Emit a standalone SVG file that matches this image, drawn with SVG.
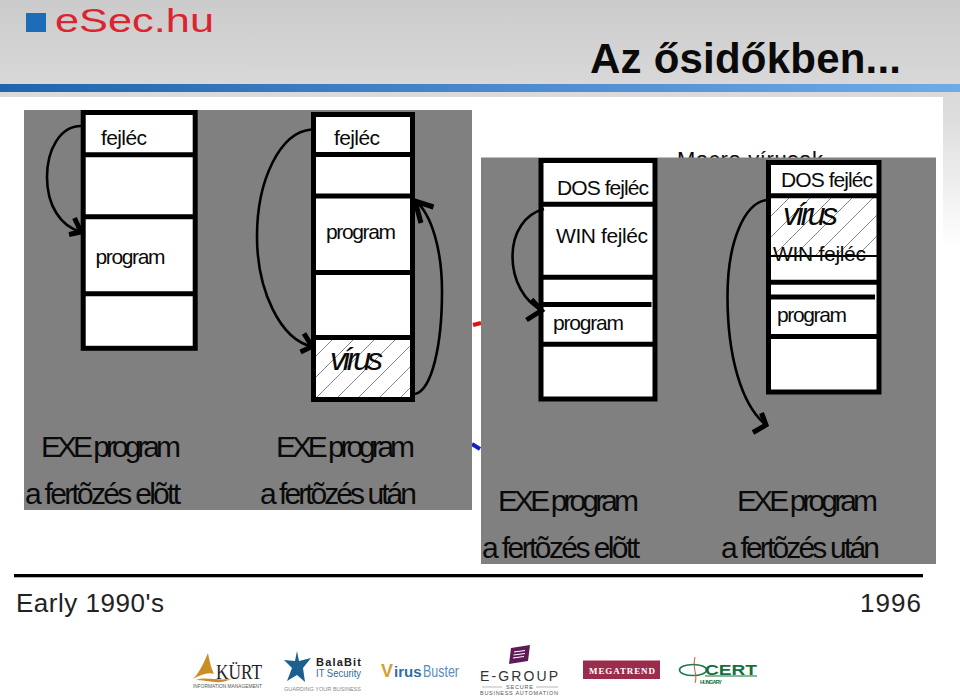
<svg xmlns="http://www.w3.org/2000/svg" width="960" height="697" viewBox="0 0 960 697">
<style>
text{font-family:"Liberation Sans",Arial,sans-serif;fill:#0a0a0a}
.cell{fill:#fff}
.frame{fill:none;stroke:#000;stroke-width:5}
.div{stroke:#000;stroke-width:5}
.lbl{font-size:21px}
.big{font-size:30px}
.vir{font-size:32px;font-style:italic}
.panel{fill:#808080}
.conn{fill:none;stroke:#000;stroke-width:2.6}
.head{fill:none;stroke:#000;stroke-width:5}
.time{font-size:26px;font-weight:normal}
</style>
<defs>
<linearGradient id="bg" x1="0" y1="0" x2="0" y2="1"><stop offset="0" stop-color="#cbcbcb"/><stop offset=".3" stop-color="#dedede"/><stop offset=".62" stop-color="#fff"/></linearGradient>
<linearGradient id="bar" x1="0" y1="0" x2="1" y2="0"><stop offset="0" stop-color="#1f65ae"/><stop offset=".5" stop-color="#4a87cc"/><stop offset="1" stop-color="#6dabe8"/></linearGradient>
<pattern id="hatch" patternUnits="userSpaceOnUse" width="21" height="21"><rect width="21" height="21" fill="#fff"/><path d="M-2,23 L23,-2" stroke="#555" stroke-width=".7" fill="none"/></pattern>
</defs>

<g id="background">
<rect width="960" height="697" fill="#fff"/>
<rect width="960" height="400" fill="url(#bg)"/>
<rect x="0" y="97" width="943" height="600" fill="#fff"/>
<rect x="0" y="84" width="960" height="8" fill="url(#bar)"/>
</g>

<g id="esec-logo">
<rect x="26" y="13" width="20" height="19" fill="#1c6cb8"/>
<text x="55" y="32" font-size="34" textLength="159" lengthAdjust="spacingAndGlyphs" style="fill:#dc2430">eSec.hu</text>
</g>
<text id="title" x="590" y="72.500" font-size="42" font-weight="bold" textLength="311" lengthAdjust="spacing">Az ősidőkben...</text>

<text id="macro" x="677" y="167" font-size="22" textLength="146" lengthAdjust="spacing">Macro vírusok</text>

<g id="stray-marks">
<path d="M473,325 L481,323" stroke="#e01010" stroke-width="4"/>
<path d="M472,444 L480,449" stroke="#1420c8" stroke-width="4"/>
</g>

<rect id="panel-1" class="panel" x="24" y="110" width="448" height="400"/>
<rect id="panel-2" class="panel" x="481" y="157.500" width="455" height="406.500"/>

<g id="box-1">
<rect class="cell" x="83" y="112.500" width="112.500" height="235.500"/>
<path class="div" d="M83,154.800H195.500M83,216.700H195.500M83,293.700H195.500"/>
<rect class="frame" x="83.200" y="112.500" width="112" height="235.800"/>
<text class="lbl" x="101" y="145" textLength="46" lengthAdjust="spacing">fejléc</text>
<text class="lbl" x="95.500" y="264" textLength="70" lengthAdjust="spacing">program</text>
</g>

<g id="box-2">
<rect class="cell" x="313" y="114" width="100" height="286"/>
<rect x="313" y="337" width="100" height="63" fill="url(#hatch)"/>
<path class="div" d="M313,154.500H413M313,196H413M313,272.600H413M313,337.600H413"/>
<rect class="frame" x="313.500" y="114.500" width="99" height="285"/>
<text class="lbl" x="334" y="144.500" textLength="46" lengthAdjust="spacing">fejléc</text>
<text class="lbl" x="326" y="238.500" textLength="70" lengthAdjust="spacing">program</text>
<text class="vir" x="330" y="370" textLength="53" lengthAdjust="spacing">vírus</text>
</g>

<g id="box-3">
<rect class="cell" x="541" y="160" width="114" height="239"/>
<path class="div" d="M541,204.300H655M541,277.300H655M541,304.600H651.500M541,344.300H655"/>
<rect class="frame" x="541" y="160.500" width="114" height="238.500"/>
<text class="lbl" x="557" y="194.500" textLength="92" lengthAdjust="spacing">DOS fejléc</text>
<text class="lbl" x="556" y="243" textLength="92" lengthAdjust="spacing">WIN fejléc</text>
<text class="lbl" x="553" y="330" textLength="71" lengthAdjust="spacing">program</text>
</g>

<g id="box-4">
<rect class="cell" x="768" y="162" width="111" height="230"/>
<rect x="768" y="196" width="111" height="60" fill="url(#hatch)"/>
<path class="div" d="M768,195.800H879M768,282.200H879M768,297H875M768,336.500H879"/>
<path d="M768,256H879" stroke="#000" stroke-width="2"/>
<rect class="frame" x="768.500" y="162.500" width="110.500" height="229.500"/>
<text class="lbl" x="781" y="186.500" textLength="92" lengthAdjust="spacing">DOS fejléc</text>
<text class="vir" x="783" y="225" textLength="55" lengthAdjust="spacing">vírus</text>
<text class="lbl" x="773" y="261" textLength="93" lengthAdjust="spacing">WIN fejléc</text>
<text class="lbl" x="777" y="321.500" textLength="70" lengthAdjust="spacing">program</text>
</g>

<g id="connectors">
<path class="conn" d="M81,126 C60,126 47,150 47,177 C47,205 60,226 81,232"/>
<path class="head" d="M74.500,218 L81,232 L69,234.500"/>
<path class="conn" d="M311.500,129.500 C280,132 257,180 257,236.500 C257,290 280,340 313,347"/>
<path class="head" d="M304,333.500 L312,346.500 L300.500,352"/>
<path class="conn" d="M415,394 C432,390 442,345 442,291.500 C442,250 432,215 415,200"/>
<path class="head" d="M433.500,207 L415,201 L421,223"/>
<path class="conn" d="M544,209 C525,214 512.500,232 512.500,256.500 C512.500,280 524,302 542.500,310.500"/>
<path class="head" d="M531.500,299.500 L541.500,310.500 L526.500,320"/>
<path class="conn" d="M766.500,200 C745,203 727.500,240 727.500,296.500 C727.500,355 741,405 766,425"/>
<path class="head" d="M761.500,413 L766,425 L753,432.500"/>
</g>

<g id="captions">
<text class="big" x="41" y="457" textLength="140" lengthAdjust="spacing">EXE program</text>
<text class="big" x="25" y="504" textLength="156" lengthAdjust="spacing">a fertõzés elõtt</text>
<text class="big" x="276" y="457" textLength="139" lengthAdjust="spacing">EXE program</text>
<text class="big" x="260" y="504" textLength="157" lengthAdjust="spacing">a fertõzés után</text>
<text class="big" x="498" y="510.500" textLength="141" lengthAdjust="spacing">EXE program</text>
<text class="big" x="482" y="558" textLength="158" lengthAdjust="spacing">a fertõzés elõtt</text>
<text class="big" x="737" y="510.500" textLength="141" lengthAdjust="spacing">EXE program</text>
<text class="big" x="721" y="558" textLength="159" lengthAdjust="spacing">a fertõzés után</text>
</g>

<g id="timeline">
<rect x="14" y="574" width="909" height="3.300" fill="#000"/>
<text class="time" x="16" y="611.500" textLength="148" lengthAdjust="spacing" style="fill:#222">Early 1990's</text>
<text class="time" x="860" y="611.500" textLength="61" lengthAdjust="spacing" style="fill:#222">1996</text>
</g>

<g id="logo-kurt">
<path d="M193,679 C200,672 205,660 208,653 C210,664 212,670 214,674 C208,672 200,675 193,679Z" fill="#c98f25"/>
<path d="M196,680 C206,676 222,682 232,678 C222,686 206,680 196,680Z" fill="#c98f25"/>
<text x="216" y="679" font-size="21" textLength="46" lengthAdjust="spacingAndGlyphs" style="font-family:'Liberation Serif',serif;fill:#222">KÜRT</text>
<text x="193" y="687.500" font-size="5" textLength="69" lengthAdjust="spacingAndGlyphs" style="fill:#555">INFORMATION MANAGEMENT</text>
</g>
<g id="logo-balabit">
<path d="M297,651 L299,661 L311,658 L303,668 L305,682 L297,675 L287,681 L292,668 L284,660 L295,661Z" fill="#1d5f8f"/>
<text x="316" y="666" font-size="11" font-weight="bold" textLength="45" lengthAdjust="spacing" style="fill:#222">BalaBit</text>
<text x="316" y="677" font-size="10.500" textLength="45" lengthAdjust="spacingAndGlyphs" style="fill:#2a6a98">IT Security</text>
<text x="284" y="690.500" font-size="5.500" textLength="77" lengthAdjust="spacingAndGlyphs" style="fill:#888">GUARDING YOUR BUSINESS</text>
</g>
<g id="logo-virusbuster">
<text x="381" y="677" font-size="18" font-weight="bold" style="fill:#d3a033">V</text>
<text x="394" y="677" font-size="15" font-weight="bold" style="fill:#2f6da6">irus</text>
<text x="423" y="677" font-size="17" textLength="36" lengthAdjust="spacingAndGlyphs" style="fill:#5b8cbc">Buster</text>
</g>
<g id="logo-egroup">
<path d="M511,648 L530,645 L528,661 L509,664Z" fill="#5f1a58"/>
<path d="M514,652 L525,650.500M513.500,655 L525,653.500M513,658 L524,656.500" stroke="#fff" stroke-width="1.200"/>
<text x="480" y="681" font-size="14" textLength="78" lengthAdjust="spacing" style="fill:#333">E-GROUP</text>
<path d="M482,687H502M536,687H558" stroke="#999" stroke-width=".7"/>
<text x="506" y="689" font-size="5.500" textLength="27" lengthAdjust="spacing" style="fill:#555">SECURE</text>
<text x="480" y="695" font-size="5.500" textLength="78" lengthAdjust="spacing" style="fill:#555">BUSINESS AUTOMATION</text>
</g>
<g id="logo-megatrend">
<rect x="583" y="660.500" width="77" height="18.500" fill="#9c2c4b"/>
<text x="589" y="673.500" font-size="9" font-weight="bold" textLength="66" lengthAdjust="spacing" style="font-family:'Liberation Serif',serif;fill:#fff">MEGATREND</text>
</g>
<g id="logo-cert">
<ellipse cx="693" cy="670" rx="13.500" ry="5.500" fill="none" stroke="#1c7a4a" stroke-width="1.600"/>
<path d="M695,657 C692,668 698,675 695,683" fill="none" stroke="#c65a3a" stroke-width="1"/>
<text x="705" y="675" font-size="15" font-weight="bold" textLength="52" lengthAdjust="spacingAndGlyphs" style="fill:#14703f">CERT</text>
<rect x="705" y="675.500" width="52" height="1" fill="#14703f"/>
<text x="700" y="683.500" font-size="5.500" font-weight="bold" textLength="22" lengthAdjust="spacing" style="fill:#14703f">HUNGARY</text>
</g>
</svg>
